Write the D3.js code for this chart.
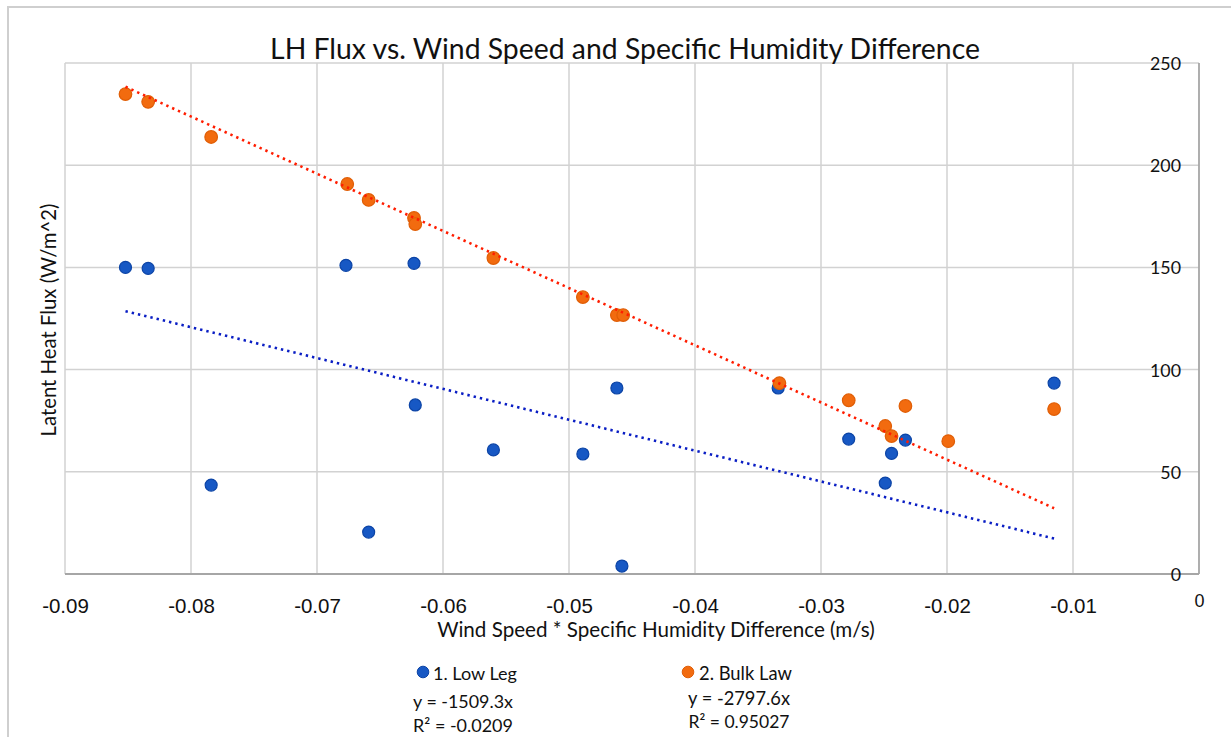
<!DOCTYPE html>
<html>
<head>
<meta charset="utf-8">
<script src="https://cdn.jsdelivr.net/npm/d3@7"></script>
<style>
  html, body { margin: 0; padding: 0; background: #fff; }
  svg { display: block; }
</style>
</head>
<body>
<svg id="chart" width="1231" height="737"></svg>
<script>
// ---------------- data ----------------
const title = "LH Flux vs. Wind Speed and Specific Humidity Difference";
const xTitle = "Wind Speed * Specific Humidity Difference (m/s)";
const yTitle = "Latent Heat Flux (W/m^2)";

const xTicks = [-0.09, -0.08, -0.07, -0.06, -0.05, -0.04, -0.03, -0.02, -0.01, 0];
const yTicks = [0, 50, 100, 150, 200, 250];

const lowLegX = [-0.0852, -0.0834, -0.0784, -0.0677, -0.0659, -0.0623, -0.0622, -0.0560, -0.0489, -0.0462, -0.0458, -0.0334, -0.0278, -0.0249, -0.0244, -0.0233, -0.0115];
const lowLegY = [150, 149.5, 43.5, 151, 20.5, 152, 82.7, 60.7, 58.7, 91, 3.9, 91, 66, 44.5, 59, 65.5, 93.4];

const bulkLawX = [-0.0852, -0.0834, -0.0784, -0.0676, -0.0659, -0.0623, -0.0622, -0.0560, -0.0489, -0.0462, -0.0457, -0.0333, -0.0278, -0.0249, -0.0244, -0.0233, -0.0199, -0.0115];
const bulkLawY = [234.8, 231, 213.8, 190.8, 183, 174.2, 171.2, 154.6, 135.5, 126.7, 126.7, 93.4, 85, 72.4, 67.5, 82.2, 65, 80.7];

const seriesNames = ["1. Low Leg", "2. Bulk Law"];
const slopes = [-1509.3, -2797.6];
const eqLabels = ["y = -1509.3x", "y = -2797.6x"];
const r2Labels = ["R\u00B2 = -0.0209", "R\u00B2 = 0.95027"];

// ---------------- layout ----------------
const svg = d3.select("#chart");
const L = 65, R = 1199, T = 63, B = 574;
const x = d3.scaleLinear().domain([-0.09, 0]).range([L, R]);
const y = d3.scaleLinear().domain([0, 250]).range([B, T]);

const calibri = "Lato, 'Open Sans', sans-serif";
const arial = "'Liberation Sans', Arial, sans-serif";

function fit(sel, target) {
  const node = sel.node();
  const fs = parseFloat(sel.attr("font-size"));
  const w = node.getComputedTextLength();
  if (w > 0) sel.attr("font-size", (fs * target / w).toFixed(2));
  return sel;
}

// outer frame
svg.append("line").attr("x1", 8).attr("x2", 8).attr("y1", 7).attr("y2", 737)
  .attr("stroke", "#cfcfcf").attr("stroke-width", 2);
svg.append("line").attr("x1", 7).attr("x2", 1231).attr("y1", 7).attr("y2", 7)
  .attr("stroke", "#cfcfcf").attr("stroke-width", 2);

// gridlines
const grid = svg.append("g");
grid.selectAll(".vg").data(xTicks.slice(0, -1)).join("line")
  .attr("x1", d => x(d)).attr("x2", d => x(d)).attr("y1", T).attr("y2", B)
  .attr("stroke", "#d2d2d2").attr("stroke-width", 1.5);
grid.selectAll(".hg").data(yTicks.slice(1)).join("line")
  .attr("x1", L).attr("x2", R).attr("y1", d => y(d)).attr("y2", d => y(d))
  .attr("stroke", "#d2d2d2").attr("stroke-width", 1.5);

// axes lines
svg.append("line").attr("x1", L).attr("x2", R).attr("y1", B).attr("y2", B)
  .attr("stroke", "#a6a6a6").attr("stroke-width", 1.8);
svg.append("line").attr("x1", R).attr("x2", R).attr("y1", T).attr("y2", B)
  .attr("stroke", "#a6a6a6").attr("stroke-width", 1.8);

// x axis via d3 axis (labels only)
const xAxis = d3.axisBottom(x).tickValues(xTicks).tickSize(0).tickPadding(0)
  .tickFormat(d => d === 0 ? "0" : d.toFixed(2));
const gx = svg.append("g").attr("transform", `translate(0,${B})`).call(xAxis);
gx.select(".domain").remove();
gx.selectAll("text").attr("font-family", arial).attr("font-size", 20.5)
  .attr("fill", "#111").attr("dy", null).attr("y", 39)
  .filter(d => d === 0).attr("font-size", 18).attr("y", 33);

// y axis labels on right side
const yAxis = d3.axisLeft(y).tickValues(yTicks).tickSize(0).tickPadding(0).tickFormat(d => String(d));
const gy = svg.append("g").attr("transform", `translate(1181,0)`).call(yAxis);
gy.select(".domain").remove();
gy.selectAll("text").attr("font-family", calibri).attr("font-size", 17.8)
  .attr("fill", "#111").attr("dy", "0.36em").attr("x", 0);

// points
const lowPts = lowLegX.map((d, i) => [d, lowLegY[i]]);
const bulkPts = bulkLawX.map((d, i) => [d, bulkLawY[i]]);

svg.append("g").selectAll("circle").data(lowPts).join("circle")
  .attr("cx", d => x(d[0])).attr("cy", d => y(d[1])).attr("r", 6)
  .attr("fill", "#1758c4").attr("stroke", "#0c44a6").attr("stroke-width", 1.2);
svg.append("g").selectAll("circle").data(bulkPts).join("circle")
  .attr("cx", d => x(d[0])).attr("cy", d => y(d[1])).attr("r", 6.3)
  .attr("fill", "#f26b0f").attr("stroke", "#e05e06").attr("stroke-width", 1.2);

// trendlines (y = slope * x), spanning data x range
const trendColors = ["#0a1ec4", "#ff1d00"];
[lowLegX, bulkLawX].forEach((xs, i) => {
  const x0 = d3.min(xs), x1 = d3.max(xs);
  const pts = [[x0, slopes[i] * x0], [x1, slopes[i] * x1]];
  svg.append("path")
    .attr("d", d3.line().x(d => x(d[0])).y(d => y(d[1]))(pts))
    .attr("stroke", trendColors[i]).attr("stroke-width", 2.6)
    .attr("stroke-dasharray", "2.4,4").attr("fill", "none");
});

// title
fit(svg.append("text").attr("x", 625).attr("y", 59).attr("text-anchor", "middle")
  .attr("font-family", calibri).attr("font-size", 26).attr("fill", "#111").text(title), 710);

// axis titles
fit(svg.append("text").attr("x", 656).attr("y", 637).attr("text-anchor", "middle")
  .attr("font-family", calibri).attr("font-size", 19).attr("fill", "#111").text(xTitle), 438);
fit(svg.append("text").attr("transform", "translate(56,320) rotate(-90)").attr("text-anchor", "middle")
  .attr("font-family", calibri).attr("font-size", 19).attr("fill", "#111").text(yTitle), 233);

// legend
const legColors = ["#1758c4", "#f26b0f"];
const legStroke = ["#0c44a6", "#e05e06"];
const legCx = [423, 688];
const legTextX = [433, 699];
const legTextW = [84, 93];
const eqX = [463, 739];
const eqW = [100, 102];
const eqY = [708, 705];
const r2W = [100, 101];
const r2Y = [732, 728];
seriesNames.forEach((name, i) => {
  svg.append("circle").attr("cx", legCx[i]).attr("cy", 672).attr("r", 5.8)
    .attr("fill", legColors[i]).attr("stroke", legStroke[i]).attr("stroke-width", 1);
  fit(svg.append("text").attr("x", legTextX[i]).attr("y", 680)
    .attr("font-family", calibri).attr("font-size", 18).attr("fill", "#111").text(name), legTextW[i]);
  fit(svg.append("text").attr("x", eqX[i]).attr("y", eqY[i]).attr("text-anchor", "middle")
    .attr("font-family", calibri).attr("font-size", 18).attr("fill", "#111").text(eqLabels[i]), eqW[i]);
  fit(svg.append("text").attr("x", eqX[i]).attr("y", r2Y[i]).attr("text-anchor", "middle")
    .attr("font-family", calibri).attr("font-size", 18).attr("fill", "#111").text(r2Labels[i]), r2W[i]);
});
</script>
</body>
</html>
